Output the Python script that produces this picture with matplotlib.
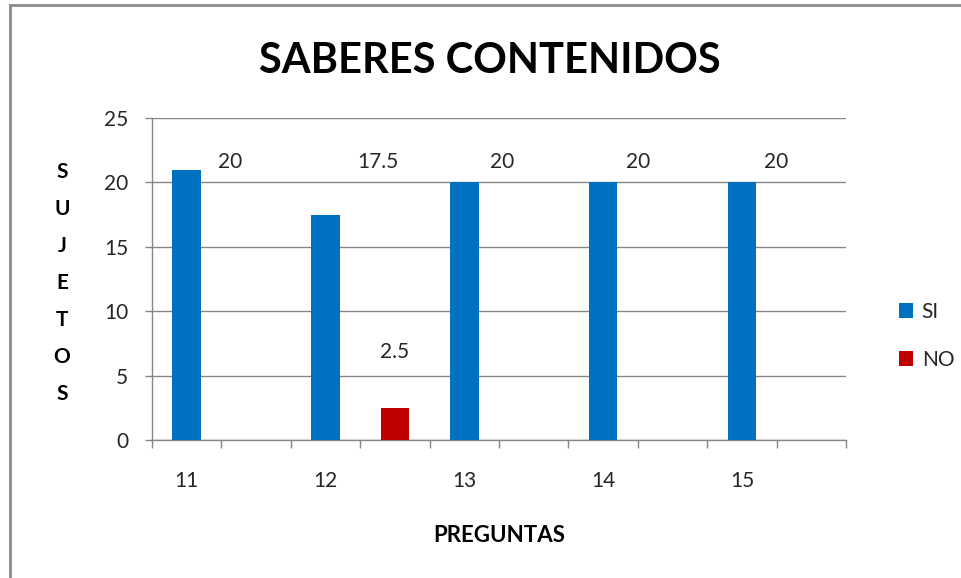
import matplotlib
matplotlib.use("Agg")
import matplotlib.pyplot as plt
import numpy as np
from matplotlib.lines import Line2D

# ---- data ----
categories = ["11", "", "12", "", "13", "", "14", "", "15", ""]
si_values = [21, 0, 17.5, 0, 20, 0, 20, 0, 20, 0]
no_values = [0, 0, 0, 2.5, 0, 0, 0, 0, 0, 0]
si_label_text = ["20", "17.5", "20", "20", "20"]
si_label_idx = [0, 2, 4, 6, 8]
no_label_text = ["2.5"]
no_label_idx = [3]
yticks = [0, 5, 10, 15, 20, 25]
title = "SABERES CONTENIDOS"
xlabel = "PREGUNTAS"
ylabel = "SUJETOS"
series_names = ["SI", "NO"]

# ---- style ----
FONT = "Lato"
BLUE = "#0070C0"
RED = "#C00000"
GRAY = "#868686"
TXT = "#262626"

fig = plt.figure(figsize=(9.61, 5.78), dpi=100)
ax = fig.add_axes([152/961, 1-440/578, (846-152)/961, (440-118)/578])

x = np.arange(len(categories))
ax.bar(x, si_values, width=0.41, color=BLUE, linewidth=0, label=series_names[0], zorder=3)
ax.bar(x, no_values, width=0.41, color=RED, linewidth=0, label=series_names[1], zorder=3)

ax.set_xlim(-0.5, len(categories) - 0.5)
ax.set_ylim(0, 25)
ax.set_yticks(yticks)
ax.set_yticklabels([str(v) for v in yticks], fontname=FONT, fontsize=15, color=TXT)
ax.yaxis.grid(True, color=GRAY, linewidth=1, zorder=0)
ax.set_axisbelow(True)

# x ticks: boundaries as major ticks, labels at centers as minor
ax.set_xticks(np.arange(-0.5, len(categories), 1.0))
ax.set_xticklabels([])
ax.set_xticks(x, minor=True)
ax.set_xticklabels(categories, minor=True, fontname=FONT, fontsize=15, color=TXT)
ax.tick_params(axis="x", which="major", length=6, width=1, color=GRAY, direction="out")
ax.tick_params(axis="x", which="minor", length=0, pad=22.5)
ax.tick_params(axis="y", length=5, width=1, color=GRAY, pad=12)

for s in ["top", "right"]:
    ax.spines[s].set_visible(False)
for s in ["left", "bottom"]:
    ax.spines[s].set_color(GRAY)
    ax.spines[s].set_linewidth(1)

# data labels
si_offsets = [0.62, 0.76, 0.54, 0.50, 0.49]
for t, i, off in zip(si_label_text, si_label_idx, si_offsets):
    ax.text(x[i] + off, 21.6, t, ha="center", va="center", fontname=FONT,
            fontsize=15, color=TXT)
for t, i in zip(no_label_text, no_label_idx):
    ax.text(x[i], 6.8, t, ha="center", va="center", fontname=FONT,
            fontsize=15, color=TXT)

# title
fig.text(490/961, 1-61/578, title, ha="center", va="center", fontname=FONT,
         fontweight="bold", fontsize=30, color="black")
# x label
fig.text(499/961, 1-535/578, xlabel, ha="center", va="center", fontname=FONT,
         fontweight="bold", fontsize=16, color="black")
# y label stacked letters
fig.text(62/961, 1-283/578, "\n".join(ylabel), ha="center", va="center",
         fontname=FONT, fontweight="bold", fontsize=15, color="black",
         linespacing=2.06)

# legend
leg = ax.legend(loc="center left", bbox_to_anchor=(880/961, 1-336/578),
                bbox_transform=fig.transFigure, frameon=False,
                prop={"family": FONT, "size": 15}, handlelength=0.7,
                handleheight=0.7, handletextpad=0.4, labelspacing=1.35)
for t in leg.get_texts():
    t.set_color(TXT)

# outer border (left and top)
fig.add_artist(Line2D([10/961, 10/961], [0, 1-5/578], transform=fig.transFigure,
                      color="#8c8c8c", linewidth=2))
fig.add_artist(Line2D([10/961, 1], [1-5/578, 1-5/578], transform=fig.transFigure,
                      color="#8c8c8c", linewidth=2))

fig.savefig("out.png", dpi=100)
